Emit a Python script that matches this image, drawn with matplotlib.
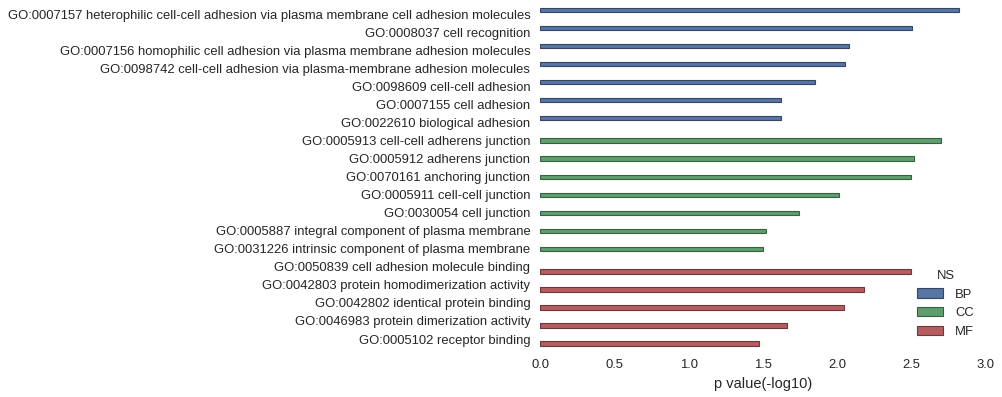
import colorsys
import matplotlib
matplotlib.use("Agg")
import matplotlib.pyplot as plt
from matplotlib.colors import to_rgb
from matplotlib.patches import Patch

terms = [
    "GO:0007157 heterophilic cell-cell adhesion via plasma membrane cell adhesion molecules",
    "GO:0008037 cell recognition",
    "GO:0007156 homophilic cell adhesion via plasma membrane adhesion molecules",
    "GO:0098742 cell-cell adhesion via plasma-membrane adhesion molecules",
    "GO:0098609 cell-cell adhesion",
    "GO:0007155 cell adhesion",
    "GO:0022610 biological adhesion",
    "GO:0005913 cell-cell adherens junction",
    "GO:0005912 adherens junction",
    "GO:0070161 anchoring junction",
    "GO:0005911 cell-cell junction",
    "GO:0030054 cell junction",
    "GO:0005887 integral component of plasma membrane",
    "GO:0031226 intrinsic component of plasma membrane",
    "GO:0050839 cell adhesion molecule binding",
    "GO:0042803 protein homodimerization activity",
    "GO:0042802 identical protein binding",
    "GO:0046983 protein dimerization activity",
    "GO:0005102 receptor binding",
]
ns = ["BP"] * 7 + ["CC"] * 7 + ["MF"] * 5
pvals = [2.82, 2.50, 2.08, 2.05, 1.85, 1.62, 1.62,
         2.70, 2.515, 2.495, 2.01, 1.74, 1.52, 1.50,
         2.495, 2.18, 2.045, 1.66, 1.47]

groups = ["BP", "CC", "MF"]
base = {"BP": "#4C72B0", "CC": "#55A868", "MF": "#C44E52"}


def desat(c, prop=0.75):
    h, l, s = colorsys.rgb_to_hls(*to_rgb(c))
    return colorsys.hls_to_rgb(h, l, s * prop)


def darker(c, f=0.6):
    return tuple(x * f for x in c)


colors = {g: desat(base[g]) for g in groups}
edges = {g: darker(colors[g]) for g in groups}

plt.rcParams["font.family"] = ["Liberation Sans", "DejaVu Sans"]
plt.rcParams["font.size"] = 9.4

fig = plt.figure(figsize=(10.02, 3.97), dpi=100)
ax = fig.add_axes([0.539, 0.1234, 0.445, 0.862])

width = 0.8 / len(groups)
for i, (term, g, v) in enumerate(zip(terms, ns, pvals)):
    k = groups.index(g)
    pos = i - 0.4 + width * (k + 0.5)
    ax.barh(pos, v, height=width, color=colors[g], edgecolor=edges[g], linewidth=0.8)

ax.set_yticks(range(len(terms)))
ax.set_yticklabels(terms, color="#262626")
ax.set_ylim(len(terms) - 0.5, -0.5)
ax.set_xlim(0, 3.0)
ax.set_xticks([0.0, 0.5, 1.0, 1.5, 2.0, 2.5, 3.0])
ax.tick_params(length=0, colors="#262626")
ax.tick_params(axis="y", pad=7)
ax.tick_params(axis="x", pad=8)
ax.set_xlabel("p value(-log10)", color="#262626", fontsize=10.5, labelpad=4)
for s in ax.spines.values():
    s.set_visible(False)

handles = [Patch(facecolor=colors[g], edgecolor=edges[g], linewidth=0.8, label=g) for g in groups]
leg = ax.legend(handles=handles, title="NS", loc="lower right", frameon=False,
                bbox_to_anchor=(1.0, -0.005), fontsize=9.4, title_fontsize=9.4,
                handlelength=2.0, handleheight=0.7, labelspacing=0.5,
                handletextpad=0.9)
for t in leg.get_texts():
    t.set_color("#262626")
leg.get_title().set_color("#262626")

fig.savefig("out.png", dpi=100)
